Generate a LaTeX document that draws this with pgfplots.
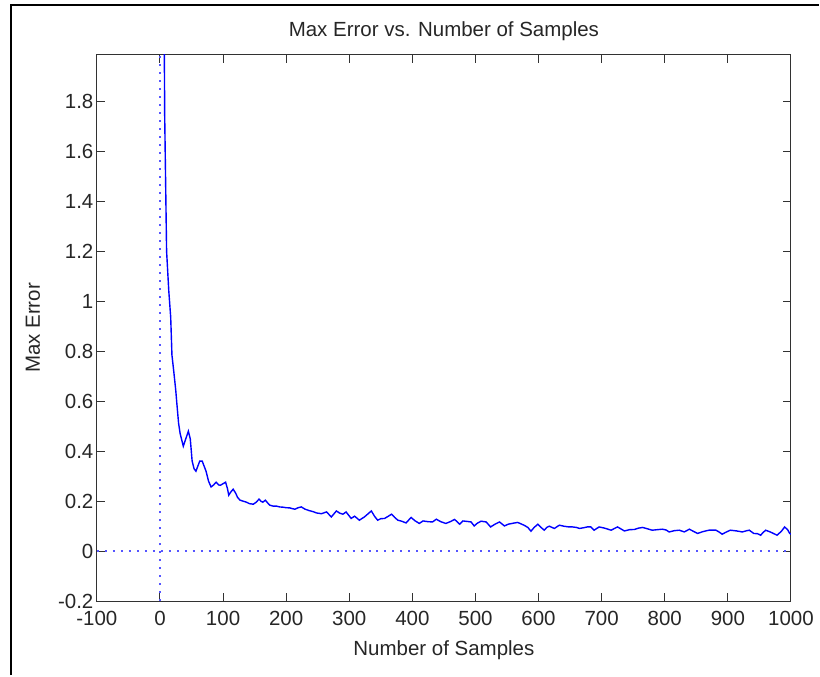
\documentclass[border=0pt]{standalone}
\usepackage{pgfplots}
\pgfplotsset{compat=1.18}
\usepackage{fontspec}
\setmainfont{Liberation Sans}

\definecolor{mlblue}{RGB}{0,0,255}
\definecolor{dotblue}{RGB}{85,85,255}
\definecolor{axgray}{RGB}{50,50,50}

\newcommand{\chartfont}{\fontsize{20.5bp}{24bp}\selectfont}

\begin{document}
\begin{tikzpicture}
\begin{axis}[
    scale only axis,
    width=695bp, height=547bp,
    xmin=-100, xmax=1000,
    ymin=-0.2, ymax=1.985,
    xtick={-100,0,...,1000},
    ytick={-0.2,0,0.2,0.4,0.6,0.8,1,1.2,1.4,1.6,1.8},
    yticklabels={-0.2,0,0.2,0.4,0.6,0.8,1,1.2,1.4,1.6,1.8},
    /pgf/number format/1000 sep={},
    /pgf/number format/assume math mode=true,
    tick align=inside,
    major tick length=8bp,
    axis line style={axgray, line width=1bp},
    every tick/.style={axgray, line width=1bp},
    tick label style={font=\chartfont, text=black!85},
    xticklabel style={yshift=-7bp},
    every axis title/.style={at={(axis description cs:0.5,1)}, anchor=center,
        yshift=24bp, font=\chartfont, text=black!85},
    every axis x label/.style={at={(axis description cs:0.5,0)}, anchor=center,
        yshift=-49bp, font=\chartfont, text=black!85},
    every axis y label/.style={at={(axis description cs:0,0.5)}, xshift=-64bp,
        rotate=90, anchor=center, font=\chartfont, text=black!85},
    title={Max Error vs. Number of Samples},
    xlabel={Number of Samples},
    ylabel={Max Error},
]

% reference lines at zero
\addplot[dotblue, line width=1.8bp, dash pattern=on 2bp off 6bp] coordinates {(0,-0.2) (0,1.985)};
\addplot[dotblue, line width=1.8bp, dash pattern=on 2bp off 6bp] coordinates {(-100,0) (1000,0)};

\addplot[mlblue, line width=1.4bp] coordinates {
(6,2.4) (7.5,1.74) (10.5,1.2) (14,1.04) (17,0.936) (19,0.784) (22,0.716)
(25,0.644) (27,0.584) (29.5,0.512) (32,0.47) (35,0.44) (37,0.42) (41,0.45)
(45,0.48) (48,0.45) (51,0.36) (54,0.33) (57,0.32) (60,0.34) (63,0.36)
(67,0.36) (70,0.34) (73,0.32) (77,0.28) (81,0.257) (85,0.265) (89,0.276)
(93,0.265) (96,0.264) (100,0.27) (104,0.276) (107,0.25) (109,0.224)
(112,0.236) (116,0.248) (120,0.232) (123,0.215) (127,0.204) (132,0.2)
(137,0.196) (142,0.19) (148,0.188) (152,0.195) (157,0.208) (160,0.2)
(163,0.196) (167,0.204) (170,0.195) (174,0.184) (180,0.18) (185,0.18)
(190,0.177) (195,0.176) (200,0.174) (206,0.173) (210,0.17) (214,0.168)
(219,0.174) (224,0.177) (230,0.168) (237,0.162) (243,0.158) (248,0.153)
(256,0.15) (264,0.157) (271.6,0.137) (279.6,0.161) (285,0.152) (290,0.148)
(295,0.157) (303,0.131) (308.5,0.14) (316,0.124) (324,0.137) (330,0.15)
(335,0.161) (340,0.14) (345,0.124) (350,0.13) (356,0.131) (362,0.14)
(367,0.148) (372,0.135) (377,0.124) (383,0.12) (390,0.113) (398,0.135)
(404,0.122) (411,0.111) (417,0.121) (425,0.118) (432,0.117) (438,0.128)
(445,0.118) (453,0.111) (460,0.118) (467,0.127) (475,0.108) (480,0.121)
(487,0.119) (493,0.117) (498,0.101) (503,0.112) (509,0.12) (517,0.117)
(524,0.097) (531,0.108) (538,0.117) (546,0.101) (552,0.108) (560,0.112)
(567,0.115) (577,0.104) (583,0.095) (588,0.08) (593,0.095) (599,0.108)
(604,0.095) (609,0.084) (613,0.095) (617,0.1) (625,0.091) (633,0.104)
(640,0.1) (648,0.097) (654,0.097) (660,0.095) (665,0.091) (672,0.094)
(677,0.097) (683,0.097) (688,0.084) (696,0.097) (705,0.092) (715,0.084)
(725,0.097) (730,0.09) (736,0.081) (744,0.086) (752,0.087) (758,0.092)
(765,0.095) (772,0.09) (780,0.084) (788,0.086) (796,0.088) (802,0.085)
(807,0.077) (815,0.082) (823,0.084) (831,0.077) (839,0.088) (845,0.08)
(852,0.071) (860,0.078) (870,0.084) (881,0.084) (886,0.077) (891,0.068)
(897,0.076) (904,0.084) (914,0.081) (923,0.077) (930,0.082) (934,0.084)
(941,0.071) (947,0.07) (952,0.064) (956,0.075) (960,0.084) (968,0.076)
(978,0.064) (985,0.08) (990,0.097) (995,0.085) (998,0.071) (1000,0.068)
};
\end{axis}

% figure frame (left and top edges visible)
\draw[black, line width=2.2bp]
  ([shift={(-86bp,-74bp)}]current axis.south west)
  -- ([shift={(-86bp,50bp)}]current axis.north west)
  -- ([shift={(28bp,50bp)}]current axis.north east);

\path[use as bounding box]
  ([shift={(-97bp,-74bp)}]current axis.south west)
  rectangle ([shift={(28bp,55bp)}]current axis.north east);
\end{tikzpicture}
\end{document}
